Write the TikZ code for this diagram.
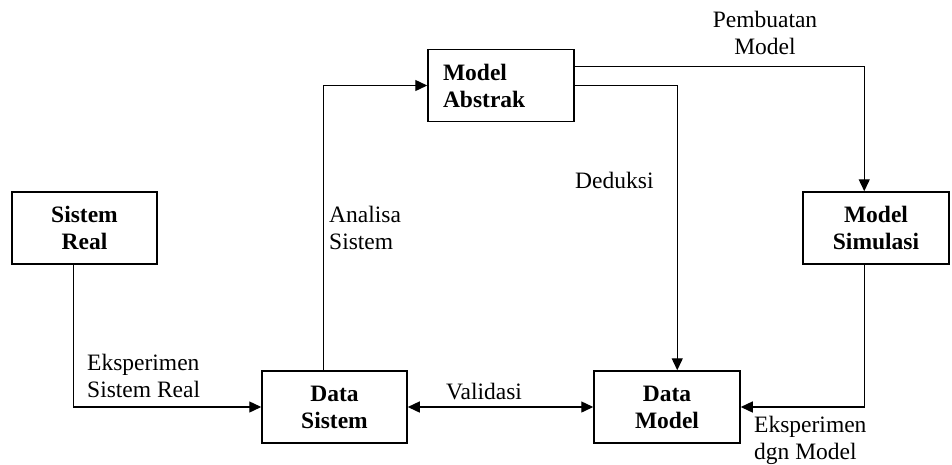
\documentclass[tikz,border=0pt]{standalone}
\usepackage{fontspec}
\setmainfont{Liberation Serif}
\usetikzlibrary{arrows.meta,calc}
\begin{document}
\begin{tikzpicture}[x=1pt,y=-1pt,
  box/.style={draw, line width=1.5pt, minimum width=145pt, minimum height=72pt, inner sep=0pt,
    font=\fontsize{23.5}{27}\selectfont\bfseries, align=center},
  lbl/.style={inner sep=0pt, font=\fontsize{23.5}{27}\selectfont},
  conn/.style={line width=1.4pt},
  tip/.tip={Triangle[length=12pt,width=11pt]},
  arr/.style={conn, -tip}]
\useasboundingbox (0,0) rectangle (952,464);
% boxes
\node[box] (sr) at (84.5,228) {Sistem\\Real};
\node[box, align=left, text width=116pt, inner xsep=15pt, minimum width=146pt] (ma) at (501,85.5) {Model\\Abstrak};
\node[box, minimum width=146pt] (ms) at (876,228) {Model\\Simulasi};
\node[box] (ds) at (334.5,407) {Data\\Sistem};
\node[box, minimum width=146pt] (dm) at (667,407) {Data\\Model};
% connectors
\draw[arr] ($(sr.south west)+(62,0)$) |- (ds.west);
\draw[arr] ($(ds.north west)+(62,0)$) |- (ma.west);
\draw[arr] ($(ma.north east)+(0,18)$) -| ($(ms.north west)+(62,0)$);
\draw[arr] (ma.east) -| ($(dm.north west)+(84,0)$);
\draw[arr] ($(ms.south west)+(62,0)$) |- (dm.east);
\draw[conn, tip-tip] (ds.east) -- (dm.west);
% labels (base anchor = baseline of the last line)
\node[lbl, align=center, anchor=base] (l1) at (765,54) {Pembuatan\\Model};
\node[lbl, anchor=base west] (l2) at (575,188) {Deduksi};
\node[lbl, align=left, anchor=base west] (l3) at (329,249) {Analisa\\Sistem};
\node[lbl, align=left, anchor=base west] (l4) at (87,397) {Eksperimen\\Sistem Real};
\node[lbl, anchor=base west] (l5) at (446,399) {Validasi};
\node[lbl, align=left, anchor=base west] (l6) at (754,459) {Eksperimen\\dgn Model};
\end{tikzpicture}
\end{document}
